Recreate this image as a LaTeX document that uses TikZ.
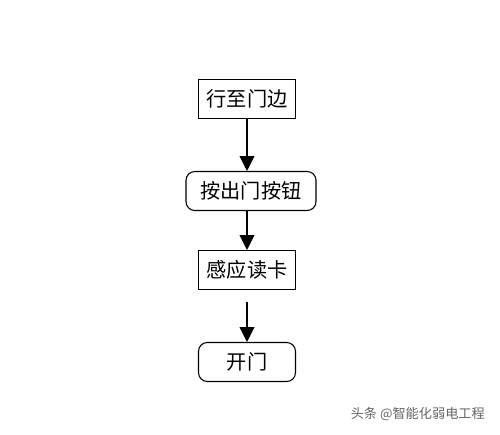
\documentclass[tikz,border=0pt]{standalone}
\usepackage{fontspec}
\usepackage{tikz}
\usetikzlibrary{arrows.meta}
\newfontfamily\cjk{Noto Sans CJK SC}
\tikzset{
	stepbox/.style={draw, line width=0.6pt, minimum width=1.94cm, minimum height=0.78cm, inner sep=0pt, font=\cjk\fontsize{11.5}{13}\selectfont},
	roundbox/.style={stepbox, rounded corners=5pt},
	flow/.style={line width=0.6pt, -{Triangle[length=8.5pt,width=8.5pt]}}
}
\begin{document}
\begin{tikzpicture}[x=0.02cm,y=-0.02cm]
			\useasboundingbox[fill=white] (0,0) rectangle (500,435);
			
			\node[stepbox] (walk) at (247,99) {行至门边};
			\node[roundbox, minimum width=2.6cm] (button) at (251,191) {按出门按钮};
			\node[stepbox] (card) at (247,270) {感应读卡};
			\node[roundbox] (open) at (247,362) {开门};
			\coordinate (gap) at (247,302);
			
			\draw[flow] (walk) -- (walk |- button.north);
			\draw[flow] (button.south -| walk) -- (card);
			\draw[flow] (gap) -- (open);
			
			\node[text=black!60, font=\cjk\fontsize{7.5}{9}\selectfont, anchor=east] (mark) at (491,414) {头条 @智能化弱电工程};
		\end{tikzpicture}
\end{document}
